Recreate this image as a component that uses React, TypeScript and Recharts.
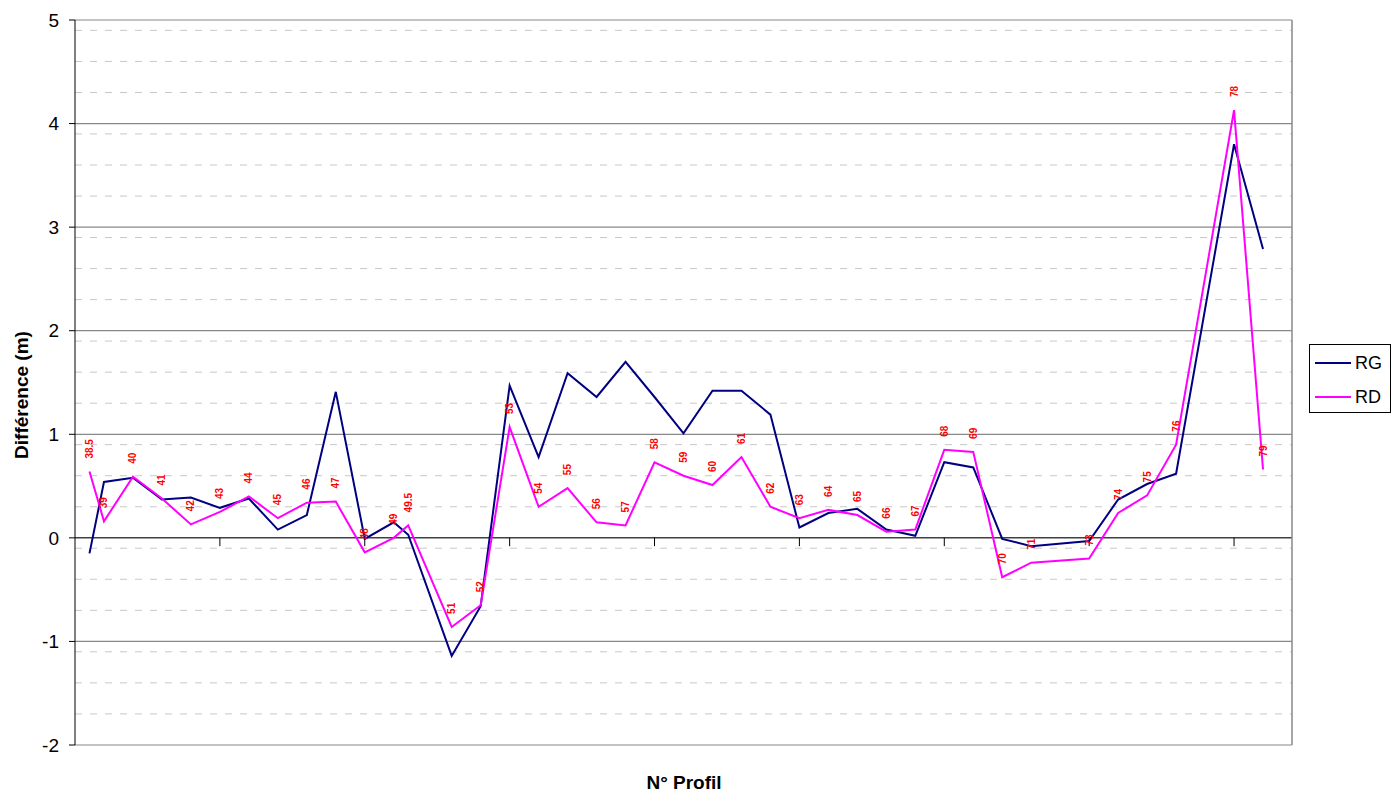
import {
  LineChart,
  Line,
  XAxis,
  YAxis,
  CartesianGrid,
  ReferenceLine,
  LabelList,
  Label
} from 'recharts';

const FONT = '"Liberation Sans", Arial, sans-serif';

// N° de profil (axe X numérique)
const profils = [
  38.5, 39, 40, 41, 42, 43, 44, 45, 46, 47, 48, 49, 49.5, 51, 52, 53, 54, 55, 56, 57,
  58, 59, 60, 61, 62, 63, 64, 65, 66, 67, 68, 69, 70, 71, 73, 74, 75, 76, 78, 79
];

// rive gauche
const rgValues = [
  -0.15, 0.54, 0.58, 0.37, 0.39, 0.29, 0.38, 0.08, 0.22, 1.41, -0.01, 0.15, 0.03, -1.14,
  -0.66, 1.47, 0.78, 1.59, 1.36, 1.7, 1.36, 1.01, 1.42, 1.42, 1.19, 0.1, 0.24, 0.28, 0.08,
  0.02, 0.73, 0.68, -0.01, -0.08, -0.03, 0.37, 0.52, 0.62, 3.8, 2.79
];

// rive droite
const rdValues = [
  0.64, 0.16, 0.59, 0.38, 0.13, 0.25, 0.4, 0.19, 0.34, 0.35, -0.14, 0.0, 0.12, -0.86,
  -0.65, 1.07, 0.3, 0.48, 0.15, 0.12, 0.73, 0.6, 0.51, 0.78, 0.3, 0.19, 0.27, 0.22, 0.06,
  0.08, 0.85, 0.83, -0.38, -0.24, -0.2, 0.24, 0.41, 0.9, 4.13, 0.66
];

const yTicks = [-2, -1, 0, 1, 2, 3, 4, 5];
const xTicks = [43, 48, 53, 58, 63, 68, 73, 78];

const series = [
  { key: 'rg', name: 'RG', color: '#000080' },
  { key: 'rd', name: 'RD', color: '#FF00FF' }
];

const minorLines: number[] = [];
for (let i = -20; i <= 50; i++) {
  if (i % 10 !== 0) minorLines.push(i / 10);
}

const data = profils.map((p, i) => ({ profil: p, rg: rgValues[i], rd: rdValues[i] }));

const ProfilLabel = (props: any) => {
  const { x, y, value } = props;
  const tx = x;
  const ty = y - 13;
  return (
    <text
      x={tx}
      y={ty}
      transform={`rotate(-90 ${tx} ${ty})`}
      textAnchor="start"
      dominantBaseline="central"
      fill="#FF0000"
      fontSize={10}
      fontWeight="bold"
      fontFamily={FONT}
    >
      {value}
    </text>
  );
};

const ChartLegend = () => (
  <div
    style={{
      position: 'absolute',
      left: 1309,
      top: 344,
      width: 80,
      height: 67,
      border: '1px solid #000',
      background: '#fff',
      fontFamily: FONT,
      fontSize: 18
    }}
  >
    {series.map((it, i) => (
      <div
        key={it.name}
        style={{ position: 'absolute', left: 5, top: 8 + i * 34, display: 'flex', alignItems: 'center' }}
      >
        <svg width={36} height={20}>
          <line x1={0} x2={36} y1={10} y2={10} stroke={it.color} strokeWidth={2} />
        </svg>
        <span style={{ marginLeft: 4, lineHeight: '20px' }}>{it.name}</span>
      </div>
    ))}
  </div>
);

export default function App() {
  return (
    <div style={{ position: 'absolute', left: 0, top: 0, width: 1398, height: 793, background: '#fff' }}>
      <LineChart
        width={1398}
        height={793}
        data={data}
        margin={{ top: 20, right: 106, bottom: 0, left: 0 }}
      >
        <CartesianGrid
          vertical={false}
          horizontalValues={minorLines}
          stroke="#c8c8c8"
          strokeDasharray="7 8"
        />
        <XAxis
          dataKey="profil"
          type="number"
          domain={[38, 80]}
          ticks={xTicks}
          axisLine={false}
          tickLine={false}
          tick={false}
          height={48}
        >
          <Label
            content={() => (
              <text
                x={684}
                y={789}
                textAnchor="middle"
                fontFamily={FONT}
                fontSize={19}
                fontWeight="bold"
                fill="#000"
              >
                N° Profil
              </text>
            )}
          />
        </XAxis>
        <YAxis
          type="number"
          domain={[-2, 5]}
          ticks={yTicks}
          width={75}
          axisLine={{ stroke: '#000' }}
          tickLine={{ stroke: '#000' }}
          tickSize={6}
          tickMargin={10}
          tick={{ fontSize: 19, fill: '#000', fontFamily: FONT }}
        >
          <Label
            content={() => (
              <text
                x={28}
                y={395}
                transform="rotate(-90 28 395)"
                textAnchor="middle"
                fontFamily={FONT}
                fontSize={19}
                fontWeight="bold"
                fill="#000"
              >
                Différence (m)
              </text>
            )}
          />
        </YAxis>
        {yTicks.map((t) => (
          <ReferenceLine key={t} y={t} stroke={t === 0 ? '#404040' : '#888'} strokeWidth={t === 0 ? 1.5 : 1.2} />
        ))}
        <ReferenceLine x={80} stroke="#888" strokeWidth={1.5} />
        {xTicks.map((t) => (
          <ReferenceLine
            key={`t${t}`}
            segment={[
              { x: t, y: 0 },
              { x: t, y: -0.08 }
            ]}
            stroke="#000"
          />
        ))}
        {series.map((s) => (
          <Line
            key={s.key}
            dataKey={s.key}
            name={s.name}
            stroke={s.color}
            strokeWidth={2}
            dot={false}
            isAnimationActive={false}
          >
            {s.key === 'rd' && <LabelList dataKey="profil" content={ProfilLabel} />}
          </Line>
        ))}
      </LineChart>
      <ChartLegend />
    </div>
  );
}
